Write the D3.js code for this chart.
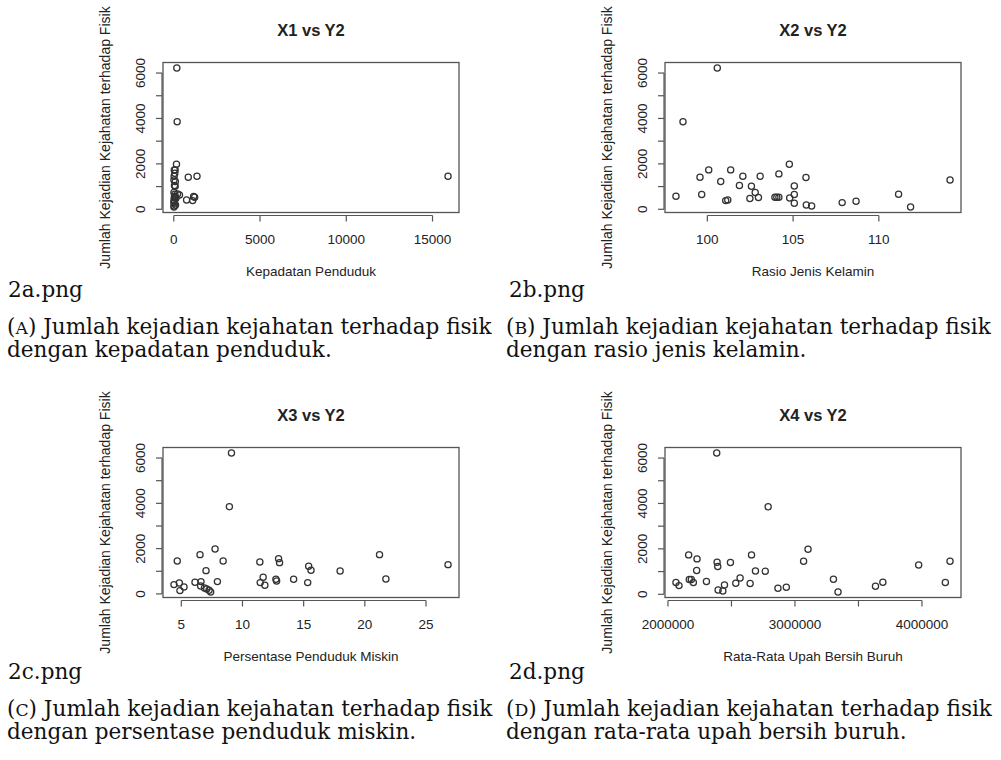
<!DOCTYPE html>
<html lang="en">
<head>
<meta charset="utf-8">
<title>X vs Y2</title>
<script src="https://d3js.org/d3.v7.min.js"></script>
<style>
  body { margin: 0; background: #fff; }
  .rtext { font-family: "Liberation Sans", Arial, sans-serif; fill: #222; }
  .title { font-weight: bold; font-size: 16.5px; }
  .tick-lab, .ax-lab { font-size: 13.5px; }
  .ylab { font-size: 14px; }
  .cap { font-family: "DejaVu Serif", serif; fill: #111; }
  .pt { fill: none; stroke: #333; stroke-width: 1.25; }
  .box { fill: none; stroke: #555; stroke-width: 1.3; }
  .axis line, .axline { stroke: #555; stroke-width: 1.2; }
</style>
</head>
<body>
<script>
// shared y axis label
var yLabel = "Jumlah Kejadian Kejahatan terhadap Fisik";
var yTicks = [0, 1000, 2000, 3000, 4000, 5000, 6000];
var yTickLabels = [0, 2000, 4000, 6000];

// X1 vs Y2 (kepadatan penduduk)
var x1 = [176, 195, 156, 78, 60, 20, 10, 90, 40, 80, 10, 215, 330, 50, 110, 30, 70, 120, 15, 40, 10, 25, 100, 20, 10, 840, 1345, 742, 1094, 1150, 1210, 15900, 60, 30];
var y1 = [6220, 3853, 1985, 1735, 1588, 1456, 1294, 1221, 1044, 1015, 735, 676, 632, 574, 515, 529, 500, 485, 412, 353, 309, 265, 191, 147, 103, 1412, 1456, 412, 382, 559, 529, 1456, 662, 1735];
var x1Ticks = [0, 5000, 10000, 15000];
var x1Labels = [0, 5000, 10000, 15000];

// X2 vs Y2 (rasio jenis kelamin)
var x2 = [98.17, 98.58, 100.58, 99.57, 100.08, 99.67, 100.78, 101.07, 101.19, 101.36, 101.87, 102.07, 102.57, 102.48, 102.79, 102.98, 103.08, 103.94, 104.05, 104.17, 104.17, 104.78, 104.80, 105.07, 105.07, 105.07, 105.75, 105.77, 106.08, 107.86, 108.67, 111.15, 111.85, 114.15];
var y2 = [574, 3853, 6220, 1412, 1735, 647, 1221, 382, 412, 1735, 1044, 1456, 1015, 471, 735, 515, 1456, 529, 529, 529, 1559, 1985, 500, 1029, 647, 265, 1397, 191, 147, 294, 353, 662, 103, 1294];
var x2Ticks = [100, 105, 110];
var x2Labels = [100, 105, 110];

// X3 vs Y2 (persentase penduduk miskin)
var x3 = [4.40, 4.67, 4.84, 4.89, 5.22, 6.12, 6.53, 6.61, 6.58, 6.89, 7.02, 7.08, 7.27, 7.40, 7.76, 7.95, 8.42, 8.93, 9.10, 11.42, 11.45, 11.69, 11.83, 12.73, 12.79, 12.95, 13.03, 14.18, 15.33, 15.41, 15.60, 17.98, 21.20, 21.72, 26.80];
var y3 = [412, 1456, 485, 147, 309, 515, 1735, 544, 353, 265, 1029, 221, 162, 88, 1985, 544, 1456, 3853, 6220, 1412, 500, 735, 382, 647, 574, 1559, 1382, 647, 500, 1221, 1044, 1015, 1735, 662, 1294];
var x3Ticks = [5, 10, 15, 20, 25];
var x3Labels = [5, 10, 15, 20, 25];

// X4 vs Y2 (rata-rata upah bersih buruh)
var x4 = [2063000, 2087000, 2163000, 2168000, 2184000, 2200000, 2226000, 2229000, 2303000, 2384000, 2387000, 2392000, 2395000, 2432000, 2445000, 2492000, 2534000, 2568000, 2647000, 2658000, 2689000, 2766000, 2789000, 2866000, 2932000, 3068000, 3103000, 3303000, 3339000, 3634000, 3692000, 3974000, 4184000, 4221000];
var y4 = [515, 382, 1735, 647, 647, 515, 1044, 1559, 559, 6220, 1412, 1221, 191, 147, 412, 1397, 485, 721, 471, 1735, 1029, 1015, 3853, 265, 309, 1456, 1985, 662, 103, 353, 529, 1294, 515, 1456];
var x4Ticks = [2000000, 2500000, 3000000, 3500000, 4000000];
var x4Labels = [2000000, 3000000, 4000000];

var titles = ["X1 vs Y2", "X2 vs Y2", "X3 vs Y2", "X4 vs Y2"];
var xLabels = ["Kepadatan Penduduk", "Rasio Jenis Kelamin", "Persentase Penduduk Miskin", "Rata-Rata Upah Bersih Buruh"];
var fileNames = ["2a.png", "2b.png", "2c.png", "2d.png"];
var capLetters = ["A", "B", "C", "D"];
var capLine1 = " Jumlah kejadian kejahatan terhadap fisik";
var capLine2 = ["dengan kepadatan penduduk.", "dengan rasio jenis kelamin.", "dengan persentase penduduk miskin.", "dengan rata-rata upah bersih buruh."];

var width = 1001, height = 760;
var svg = d3.select("body").append("svg")
    .attr("width", width)
    .attr("height", height);

var boxW = 296, boxH = 150;
var panels = [
    { x: x1, y: y1, ticks: x1Ticks, labels: x1Labels, left: 163, top: 62.5, fx: 8, fy: 297 },
    { x: x2, y: y2, ticks: x2Ticks, labels: x2Labels, left: 665, top: 62.5, fx: 509, fy: 297 },
    { x: x3, y: y3, ticks: x3Ticks, labels: x3Labels, left: 163, top: 447.5, fx: 8, fy: 679 },
    { x: x4, y: y4, ticks: x4Ticks, labels: x4Labels, left: 665, top: 447.5, fx: 509, fy: 679 }
];

// R style range: data extent padded by 4%
function rDomain(vals) {
    var e = d3.extent(vals), pad = (e[1] - e[0]) * 0.04;
    return [e[0] - pad, e[1] + pad];
}

panels.forEach(function(p, i) {
    var g = svg.append("g").attr("transform", "translate(" + p.left + "," + p.top + ")");
    var xs = d3.scaleLinear().domain(rDomain(p.x)).range([0, boxW]);
    var ys = d3.scaleLinear().domain(rDomain(p.y)).range([boxH, 0]);

    // x axis
    var xa = g.append("g").attr("class", "axis").attr("transform", "translate(0," + (boxH + 3) + ")");
    xa.append("line").attr("class", "axline")
        .attr("x1", xs(d3.min(p.ticks))).attr("x2", xs(d3.max(p.ticks)));
    xa.selectAll("line.tk").data(p.ticks).enter().append("line")
        .attr("class", "tk")
        .attr("x1", d => xs(d)).attr("x2", d => xs(d))
        .attr("y1", 0).attr("y2", 6);
    xa.selectAll("text").data(p.labels).enter().append("text")
        .attr("class", "rtext tick-lab")
        .attr("x", d => xs(d)).attr("y", 28)
        .attr("text-anchor", "middle")
        .text(d => d);

    // y axis
    var ya = g.append("g").attr("class", "axis").attr("transform", "translate(-1,0)");
    ya.append("line").attr("class", "axline")
        .attr("y1", ys(0)).attr("y2", ys(6000));
    ya.selectAll("line.tk").data(yTicks).enter().append("line")
        .attr("class", "tk")
        .attr("y1", d => ys(d)).attr("y2", d => ys(d))
        .attr("x1", 0).attr("x2", -6);
    ya.selectAll("text").data(yTickLabels).enter().append("text")
        .attr("class", "rtext tick-lab")
        .attr("transform", d => "translate(-17," + ys(d) + ") rotate(-90)")
        .attr("text-anchor", "middle")
        .text(d => d);

    // box
    g.append("rect").attr("class", "box")
        .attr("width", boxW).attr("height", boxH);

    // points
    g.selectAll("circle").data(p.x).enter().append("circle")
        .attr("class", "pt")
        .attr("cx", (d, j) => xs(d))
        .attr("cy", (d, j) => ys(p.y[j]))
        .attr("r", 3.1);

    // titles and labels
    g.append("text").attr("class", "rtext title")
        .attr("x", boxW / 2).attr("y", -27)
        .attr("text-anchor", "middle")
        .text(titles[i]);
    g.append("text").attr("class", "rtext ax-lab")
        .attr("x", boxW / 2).attr("y", boxH + 63.5)
        .attr("text-anchor", "middle")
        .text(xLabels[i]);
    g.append("text").attr("class", "rtext ylab")
        .attr("transform", "translate(-53," + (boxH / 2) + ") rotate(-90)")
        .attr("text-anchor", "middle")
        .text(yLabel);
});

// captions in serif, sized so the first line spans ~488px
var probe = svg.append("text").attr("class", "cap").style("font-size", "20px")
    .text("(A)" + capLine1);
var capSize = 20 * 488 / probe.node().getComputedTextLength();
probe.remove();

panels.forEach(function(p, i) {
    svg.append("text").attr("class", "cap")
        .attr("x", p.fx).attr("y", p.fy)
        .style("font-size", capSize + "px")
        .text(fileNames[i]);

    var cx = (i % 2 === 0) ? 7 : 506;
    var t = svg.append("text").attr("class", "cap")
        .attr("x", cx).attr("y", p.fy + 37)
        .style("font-size", capSize + "px");
    t.append("tspan").text("(");
    t.append("tspan").style("font-size", (capSize * 0.8) + "px").text(capLetters[i]);
    t.append("tspan").text(")" + capLine1);

    svg.append("text").attr("class", "cap")
        .attr("x", cx).attr("y", p.fy + 60)
        .style("font-size", capSize + "px")
        .text(capLine2[i]);
});
</script>
</body>
</html>
